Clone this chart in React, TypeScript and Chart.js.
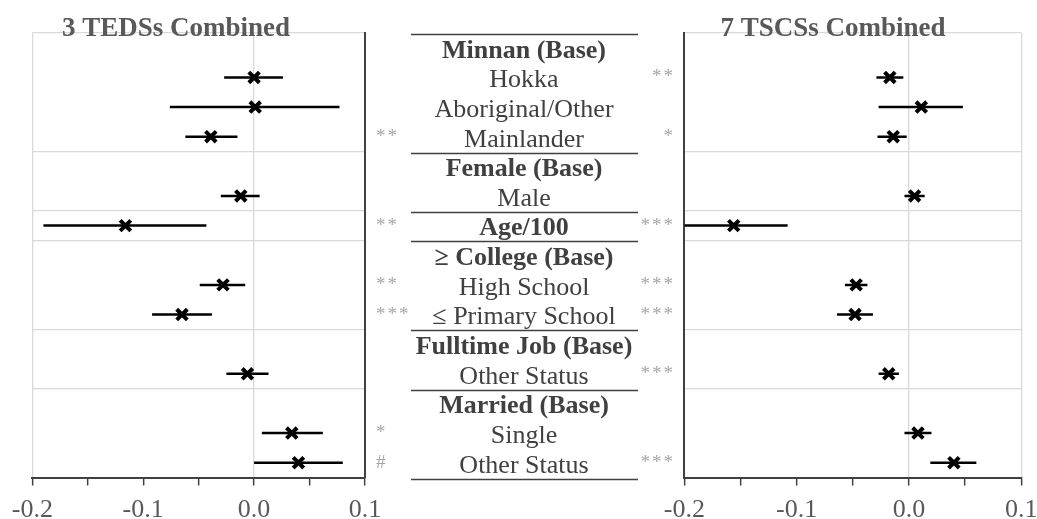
import React, { useEffect, useRef } from "react";
import { Chart, registerables } from "chart.js";

Chart.register(...registerables);

// ---------- data ----------
const rowLabels = [
  "Minnan (Base)", "Hokka", "Aboriginal/Other", "Mainlander",
  "Female (Base)", "Male", "Age/100",
  "≥ College (Base)", "High School", "≤ Primary School",
  "Fulltime Job (Base)", "Other Status",
  "Married (Base)", "Single", "Other Status",
];
const boldRows = [true, false, false, false, true, false, true, true, false, false, true, false, true, false, false];
const groupBoundaries = [0, 4, 6, 7, 10, 12, 15];

const tedsTitle = "3 TEDSs Combined";
const tedsEst = [null, 0.0, 0.001, -0.039, null, -0.012, -0.116, null, -0.028, -0.065, null, -0.006, null, 0.034, 0.040];
const tedsLow = [null, -0.027, -0.076, -0.062, null, -0.030, -0.190, null, -0.049, -0.092, null, -0.025, null, 0.007, 0.0];
const tedsHigh = [null, 0.026, 0.077, -0.015, null, 0.005, -0.043, null, -0.008, -0.038, null, 0.013, null, 0.062, 0.080];
const tedsSig = ["", "", "", "**", "", "", "**", "", "**", "***", "", "", "", "*", "#"];

const tscsTitle = "7 TSCSs Combined";
const tscsEst = [null, -0.017, 0.011, -0.014, null, 0.005, -0.156, null, -0.047, -0.048, null, -0.018, null, 0.008, 0.040];
const tscsLow = [null, -0.029, -0.027, -0.028, null, -0.004, -0.200, null, -0.057, -0.064, null, -0.027, null, -0.004, 0.019];
const tscsHigh = [null, -0.005, 0.048, -0.002, null, 0.014, -0.108, null, -0.037, -0.032, null, -0.009, null, 0.020, 0.060];
const tscsSig = ["", "**", "", "*", "", "", "***", "", "***", "***", "", "***", "", "", "***"];

const xMin = -0.2;
const xMax = 0.1;
const xTickValues = [-0.2, -0.15, -0.1, -0.05, 0, 0.05, 0.1];

const SERIF = "'Liberation Serif', 'Times New Roman', serif";

type Side = "left" | "right";

function buildConfig(side: Side, est: (number | null)[], low: (number | null)[], high: (number | null)[], sig: string[], title: string) {
  const datasets: any[] = [];
  est.forEach((v, i) => {
    if (v === null) return;
    datasets.push({
      type: "scatter",
      data: [{ x: low[i], y: i + 0.5 }, { x: high[i], y: i + 0.5 }],
      showLine: true,
      borderColor: "#000000",
      borderWidth: 2.5,
      pointRadius: 0,
      order: 2,
    });
  });
  datasets.push({
    type: "scatter",
    data: est.map((v, i) => (v === null ? null : { x: v, y: i + 0.5 })).filter((p) => p !== null),
    pointStyle: "crossRot",
    pointRadius: 7.5,
    borderWidth: 4,
    borderColor: "#000000",
    backgroundColor: "#000000",
    order: 1,
  });

  const lightGrid = side === "left" ? [-0.2, 0] : [0, 0.1];
  const canvasW = side === "left" ? 640 : 420;
  const plotLeft = side === "left" ? 32.3 : 44.3;
  const plotRight = side === "left" ? 365 : 381.3;
  const titleX = side === "left" ? 176 : 193;

  const decor = {
    id: "decor-" + side,
    afterDraw(chart: any) {
      const ctx = chart.ctx;
      const ys = chart.scales.y;
      ctx.save();
      // title
      ctx.font = `bold 27px ${SERIF}`;
      ctx.fillStyle = "#595959";
      ctx.textAlign = "center";
      ctx.textBaseline = "alphabetic";
      ctx.fillText(title, titleX, 36);

      // significance marks
      ctx.font = `19px ${SERIF}`;
      ctx.fillStyle = "#a6a6a6";
      sig.forEach((s, i) => {
        if (!s) return;
        const y = ys.getPixelForValue(i + 0.5) + 5;
        const chars = s.split("");
        chars.forEach((ch, k) => {
          if (side === "left") {
            ctx.textAlign = "left";
            ctx.fillText(ch, 376 + k * 11.5, y);
          } else {
            ctx.textAlign = "right";
            ctx.fillText(ch, 33 - (chars.length - 1 - k) * 11.5, y);
          }
        });
      });

      if (side === "left") {
        // middle label column
        ctx.strokeStyle = "#404040";
        ctx.lineWidth = 1.5;
        groupBoundaries.forEach((b) => {
          const y = Math.round(ys.getPixelForValue(b)) + 1.5;
          ctx.beginPath();
          ctx.moveTo(411, y);
          ctx.lineTo(638, y);
          ctx.stroke();
        });
        ctx.fillStyle = "#404040";
        ctx.textAlign = "center";
        ctx.textBaseline = "middle";
        rowLabels.forEach((lab, i) => {
          ctx.font = `${boldRows[i] ? "bold " : ""}26px ${SERIF}`;
          ctx.fillText(lab, 524, ys.getPixelForValue(i + 0.5) + 3);
        });
      }
      ctx.restore();
    },
  };

  return {
    type: "scatter",
    data: { datasets },
    plugins: [decor],
    options: {
      responsive: false,
      animation: false,
      devicePixelRatio: 1,
      events: [],
      layout: { padding: { left: plotLeft, right: canvasW - plotRight, top: 33, bottom: 0 } },
      plugins: { legend: { display: false }, tooltip: { enabled: false }, title: { display: false } },
      scales: {
        x: {
          type: "linear",
          min: xMin,
          max: xMax,
          afterBuildTicks: (s: any) => {
            s.ticks = xTickValues.map((v) => ({ value: v }));
          },
          afterFit: (s: any) => {
            s.height = 519 - 477.5;
          },
          grid: {
            color: (c: any) =>
              c.tick && lightGrid.some((g) => Math.abs(c.tick.value - g) < 1e-9) ? "#d9d9d9" : "rgba(0,0,0,0)",
            lineWidth: 1.3,
            tickColor: "#404040",
            tickLength: 8,
            tickWidth: 1.5,
          },
          border: { color: "#404040", width: 2 },
          ticks: {
            autoSkip: false,
            maxRotation: 0,
            padding: 9,
            color: "#595959",
            font: { family: SERIF, size: 26 },
            callback: (v: any) => {
              const t = Number(v) * 10;
              return Math.abs(t - Math.round(t)) < 1e-6 ? (Math.round(t) / 10).toFixed(1) : "";
            },
          },
        },
        y: {
          type: "linear",
          min: 0,
          max: 15,
          reverse: true,
          position: side === "left" ? "right" : "left",
          afterBuildTicks: (s: any) => {
            s.ticks = groupBoundaries.map((v) => ({ value: v }));
          },
          afterFit: (s: any) => {
            s.width = 0;
          },
          grid: { color: "#d9d9d9", lineWidth: 1.3, drawTicks: false },
          border: { color: "#404040", width: 2 },
          ticks: { display: false },
        },
      },
    },
  };
}

export default function App() {
  const leftRef = useRef<HTMLCanvasElement | null>(null);
  const rightRef = useRef<HTMLCanvasElement | null>(null);

  useEffect(() => {
    const l = new Chart(leftRef.current as HTMLCanvasElement, buildConfig("left", tedsEst, tedsLow, tedsHigh, tedsSig, tedsTitle) as any);
    const r = new Chart(rightRef.current as HTMLCanvasElement, buildConfig("right", tscsEst, tscsLow, tscsHigh, tscsSig, tscsTitle) as any);
    return () => {
      l.destroy();
      r.destroy();
    };
  }, []);

  return (
    <div style={{ position: "absolute", left: 0, top: 0, width: 1037, height: 519, overflow: "hidden", background: "#ffffff" }}>
      <canvas ref={leftRef} width={640} height={519} style={{ position: "absolute", left: 0, top: 0 }} />
      <canvas ref={rightRef} width={420} height={519} style={{ position: "absolute", left: 640, top: 0 }} />
    </div>
  );
}
